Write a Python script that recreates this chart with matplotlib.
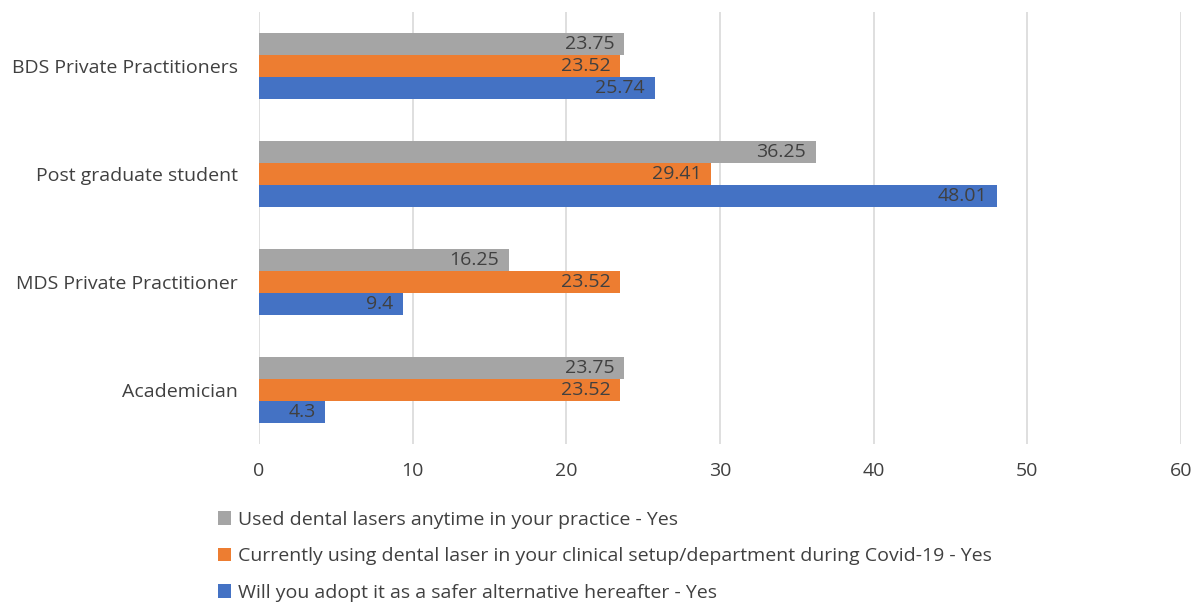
import numpy as np
import matplotlib.pyplot as plt
from matplotlib.patches import Patch

plt.rcParams["font.family"] = ["Open Sans", "DejaVu Sans"]

categories = ["BDS Private Practitioners", "Post graduate student",
              "MDS Private Practitioner", "Academician"]
used_ever = [23.75, 36.25, 16.25, 23.75]
using_covid = [23.52, 29.41, 23.52, 23.52]
will_adopt = [25.74, 48.01, 9.4, 4.3]
series_labels = [
    "Used dental lasers anytime in your practice - Yes",
    "Currently using dental laser in your clinical setup/department during Covid-19 - Yes",
    "Will you adopt it as a safer alternative hereafter - Yes",
]
colors = ["#A5A5A5", "#ED7D31", "#4472C4"]
text_color = "#404040"
fs = 14

fig = plt.figure(figsize=(12.02, 6.04), dpi=100)
ax = fig.add_axes([0.2155, 0.265, 0.767, 0.715])

y = np.arange(len(categories))[::-1].astype(float)
h = 0.204
series = [used_ever, using_covid, will_adopt]
for i, (vals, col) in enumerate(zip(series, colors)):
    pos = y + h * (1 - i)
    bars = ax.barh(pos, vals, height=h, color=col, zorder=3)
    for b, v in zip(bars, vals):
        ax.annotate("%g" % v, (v, b.get_y() + h / 2), xytext=(-7, 0),
                    textcoords="offset points", ha="right", va="center",
                    fontsize=fs, color=text_color, zorder=4)

ax.set_xlim(0, 60)
ax.set_ylim(-0.5, len(categories) - 0.5)
ax.set_xticks(np.arange(0, 61, 10))
ax.set_yticks(y)
ax.set_yticklabels(categories)
ax.tick_params(axis="both", length=0, labelsize=fs, colors=text_color)
ax.tick_params(axis="x", pad=13)
ax.tick_params(axis="y", pad=15)
ax.grid(axis="x", color="#D9D9D9", linewidth=1.2, zorder=0)
for s in ax.spines.values():
    s.set_visible(False)

handles = [Patch(facecolor=c) for c in colors]
fig.legend(handles, series_labels, loc="upper left", bbox_to_anchor=(0.1745, 0.167),
           frameon=False, fontsize=fs, labelcolor=text_color, handlelength=0.7,
           handleheight=0.7, handletextpad=0.35, labelspacing=0.95, borderaxespad=0)

fig.savefig("out.png", dpi=100)
